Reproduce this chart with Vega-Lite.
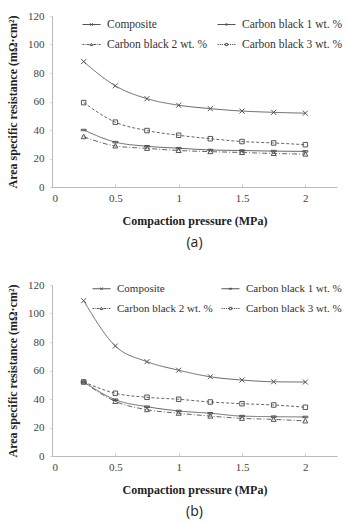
{
  "$schema": "https://vega.github.io/schema/vega-lite/v6.json",
  "padding": {"left": 6, "top": 10, "right": 4, "bottom": 4},
  "spacing": 29,
  "config": {
    "view": {"stroke": null},
    "font": "Liberation Serif",
    "axis": {
      "domainColor": "#bbbbbb",
      "tickColor": "#cccccc",
      "labelFont": "Liberation Serif",
      "labelFontSize": 11,
      "labelColor": "#444444",
      "titleFont": "Liberation Serif",
      "titleFontSize": 12,
      "titleFontWeight": "bold",
      "titleColor": "#222222",
      "grid": false
    },
    "legend": {
      "labelFont": "Liberation Serif",
      "labelColor": "#333333",
      "symbolStrokeWidth": 1,
      "symbolStrokeColor": "#555555"
    }
  },
  "datasets": {
    "a": [
      {"p": 0.25, "r": 88, "s": "Composite"},
      {"p": 0.5, "r": 71, "s": "Composite"},
      {"p": 0.75, "r": 62, "s": "Composite"},
      {"p": 1, "r": 57.4, "s": "Composite"},
      {"p": 1.25, "r": 55, "s": "Composite"},
      {"p": 1.5, "r": 53.3, "s": "Composite"},
      {"p": 1.75, "r": 52.4, "s": "Composite"},
      {"p": 2, "r": 51.8, "s": "Composite"},
      {"p": 0.25, "r": 40, "s": "Carbon black 1 wt. %"},
      {"p": 0.5, "r": 31.5, "s": "Carbon black 1 wt. %"},
      {"p": 0.75, "r": 28.6, "s": "Carbon black 1 wt. %"},
      {"p": 1, "r": 27.2, "s": "Carbon black 1 wt. %"},
      {"p": 1.25, "r": 26, "s": "Carbon black 1 wt. %"},
      {"p": 1.5, "r": 25.6, "s": "Carbon black 1 wt. %"},
      {"p": 1.75, "r": 25.2, "s": "Carbon black 1 wt. %"},
      {"p": 2, "r": 25, "s": "Carbon black 1 wt. %"},
      {"p": 0.25, "r": 35.3, "s": "Carbon black 2 wt. %"},
      {"p": 0.5, "r": 28.8, "s": "Carbon black 2 wt. %"},
      {"p": 0.75, "r": 27.1, "s": "Carbon black 2 wt. %"},
      {"p": 1, "r": 25.6, "s": "Carbon black 2 wt. %"},
      {"p": 1.25, "r": 24.8, "s": "Carbon black 2 wt. %"},
      {"p": 1.5, "r": 24.2, "s": "Carbon black 2 wt. %"},
      {"p": 1.75, "r": 23.5, "s": "Carbon black 2 wt. %"},
      {"p": 2, "r": 23.1, "s": "Carbon black 2 wt. %"},
      {"p": 0.25, "r": 59.2, "s": "Carbon black 3 wt. %"},
      {"p": 0.5, "r": 45.5, "s": "Carbon black 3 wt. %"},
      {"p": 0.75, "r": 39.6, "s": "Carbon black 3 wt. %"},
      {"p": 1, "r": 36.3, "s": "Carbon black 3 wt. %"},
      {"p": 1.25, "r": 33.9, "s": "Carbon black 3 wt. %"},
      {"p": 1.5, "r": 31.9, "s": "Carbon black 3 wt. %"},
      {"p": 1.75, "r": 30.9, "s": "Carbon black 3 wt. %"},
      {"p": 2, "r": 29.7, "s": "Carbon black 3 wt. %"}
    ],
    "b": [
      {"p": 0.25, "r": 109, "s": "Composite"},
      {"p": 0.5, "r": 77.2, "s": "Composite"},
      {"p": 0.75, "r": 66.2, "s": "Composite"},
      {"p": 1, "r": 60.2, "s": "Composite"},
      {"p": 1.25, "r": 55.6, "s": "Composite"},
      {"p": 1.5, "r": 53.3, "s": "Composite"},
      {"p": 1.75, "r": 52.1, "s": "Composite"},
      {"p": 2, "r": 51.9, "s": "Composite"},
      {"p": 0.25, "r": 52, "s": "Carbon black 1 wt. %"},
      {"p": 0.5, "r": 39.5, "s": "Carbon black 1 wt. %"},
      {"p": 0.75, "r": 34.6, "s": "Carbon black 1 wt. %"},
      {"p": 1, "r": 31.6, "s": "Carbon black 1 wt. %"},
      {"p": 1.25, "r": 30, "s": "Carbon black 1 wt. %"},
      {"p": 1.5, "r": 28, "s": "Carbon black 1 wt. %"},
      {"p": 1.75, "r": 27.6, "s": "Carbon black 1 wt. %"},
      {"p": 2, "r": 27.4, "s": "Carbon black 1 wt. %"},
      {"p": 0.25, "r": 52, "s": "Carbon black 2 wt. %"},
      {"p": 0.5, "r": 38.3, "s": "Carbon black 2 wt. %"},
      {"p": 0.75, "r": 32.5, "s": "Carbon black 2 wt. %"},
      {"p": 1, "r": 30, "s": "Carbon black 2 wt. %"},
      {"p": 1.25, "r": 28, "s": "Carbon black 2 wt. %"},
      {"p": 1.5, "r": 26.4, "s": "Carbon black 2 wt. %"},
      {"p": 1.75, "r": 25.7, "s": "Carbon black 2 wt. %"},
      {"p": 2, "r": 24.6, "s": "Carbon black 2 wt. %"},
      {"p": 0.25, "r": 52, "s": "Carbon black 3 wt. %"},
      {"p": 0.5, "r": 44, "s": "Carbon black 3 wt. %"},
      {"p": 0.75, "r": 41.2, "s": "Carbon black 3 wt. %"},
      {"p": 1, "r": 39.8, "s": "Carbon black 3 wt. %"},
      {"p": 1.25, "r": 37.9, "s": "Carbon black 3 wt. %"},
      {"p": 1.5, "r": 36.7, "s": "Carbon black 3 wt. %"},
      {"p": 1.75, "r": 35.8, "s": "Carbon black 3 wt. %"},
      {"p": 2, "r": 34.2, "s": "Carbon black 3 wt. %"}
    ]
  },
  "vconcat": [
    {
      "width": 285,
      "height": 171,
      "data": {"name": "a"},
      "title": {"text": "(a)", "orient": "bottom", "font": "Open Sans", "fontSize": 14, "fontWeight": "normal", "color": "#222222", "offset": 10},
      "encoding": {
        "x": {"field": "p", "type": "quantitative", "scale": {"domain": [0, 2.25], "nice": false}, "axis": {"values": [0, 0.5, 1, 1.5, 2], "format": "~g", "title": "Compaction pressure (MPa)", "tickSize": -3, "labelPadding": 8, "titlePadding": 12}},
        "y": {"field": "r", "type": "quantitative", "scale": {"domain": [0, 120], "nice": false}, "axis": {"values": [0, 20, 40, 60, 80, 100, 120], "title": "Area specific resistance (mΩ·cm²)", "tickSize": 2, "labelPadding": 6, "titlePadding": 8}}
      },
      "layer": [
        {
          "mark": {"type": "line", "interpolate": "monotone", "color": "#666666", "strokeWidth": 1},
          "encoding": {
            "detail": {"field": "s"},
            "strokeDash": {"field": "s", "type": "nominal", "scale": {"domain": ["Composite", "Carbon black 1 wt. %", "Carbon black 2 wt. %", "Carbon black 3 wt. %"], "range": [[1, 0], [1, 0], [5, 2, 1, 2], [3, 2]]}, "legend": null}
          }
        },
        {
          "mark": {"type": "point", "filled": false, "color": "#555555", "strokeWidth": 1, "size": 25, "opacity": 1},
          "encoding": {
            "shape": {"field": "s", "type": "nominal", "scale": {"domain": ["Composite", "Carbon black 1 wt. %", "Carbon black 2 wt. %", "Carbon black 3 wt. %"], "range": ["M-1,-1L1,1M-1,1L1,-1", "M-1,-0.3H1V0.3H-1Z", "M0,-1L1,0.8L-1,0.8Z", "M-0.9,-0.9H0.9V0.9H-0.9Z"]}, "legend": null}
          }
        },
        {
          "transform": [{"filter": "datum.p < 0"}],
          "mark": {"type": "point", "filled": false, "color": "#555555", "strokeWidth": 1, "size": 324, "opacity": 1},
          "encoding": {
            "shape": {
              "field": "s",
              "type": "nominal",
              "scale": {"domain": ["Composite", "Carbon black 1 wt. %", "Carbon black 2 wt. %", "Carbon black 3 wt. %"], "range": [
                "M-1,0H1M-0.14,-0.14L0.14,0.14M-0.14,0.14L0.14,-0.14",
                "M-1,0H1M-0.14,-0.05H0.14V0.05H-0.14Z",
                "M-1,0H-0.8M-0.7,0H-0.64M-0.54,0H-0.2M0.2,0H0.54M0.64,0H0.7M0.8,0H1M0,-0.14L0.15,0.12L-0.15,0.12Z",
                "M-1,0H-0.86M-0.76,0H-0.62M-0.52,0H-0.38M-0.28,0H-0.14M0.14,0H0.28M0.38,0H0.52M0.62,0H0.76M0.86,0H1M-0.13,-0.13H0.13V0.13H-0.13Z"
              ]},
              "legend": {"title": null, "orient": "none", "legendX": 30, "legendY": -1, "columns": 2, "direction": "horizontal", "symbolSize": 324, "columnPadding": 8, "rowPadding": 5, "labelOffset": 6, "labelFontSize": 11.5}
            }
          }
        }
      ],
      "resolve": {"scale": {"shape": "independent"}}
    },
    {
      "width": 285,
      "height": 171,
      "data": {"name": "b"},
      "title": {"text": "(b)", "orient": "bottom", "font": "Open Sans", "fontSize": 14, "fontWeight": "normal", "color": "#222222", "offset": 10},
      "encoding": {
        "x": {"field": "p", "type": "quantitative", "scale": {"domain": [0, 2.25], "nice": false}, "axis": {"values": [0, 0.5, 1, 1.5, 2], "format": "~g", "title": "Compaction pressure (MPa)", "tickSize": -3, "labelPadding": 8, "titlePadding": 12}},
        "y": {"field": "r", "type": "quantitative", "scale": {"domain": [0, 120], "nice": false}, "axis": {"values": [0, 20, 40, 60, 80, 100, 120], "title": "Area specific resistance (mΩ·cm²)", "tickSize": 2, "labelPadding": 6, "titlePadding": 8}}
      },
      "layer": [
        {
          "mark": {"type": "line", "interpolate": "monotone", "color": "#666666", "strokeWidth": 1},
          "encoding": {
            "detail": {"field": "s"},
            "strokeDash": {"field": "s", "type": "nominal", "scale": {"domain": ["Composite", "Carbon black 1 wt. %", "Carbon black 2 wt. %", "Carbon black 3 wt. %"], "range": [[1, 0], [1, 0], [5, 2, 1, 2], [3, 2]]}, "legend": null}
          }
        },
        {
          "mark": {"type": "point", "filled": false, "color": "#555555", "strokeWidth": 1, "size": 25, "opacity": 1},
          "encoding": {
            "shape": {"field": "s", "type": "nominal", "scale": {"domain": ["Composite", "Carbon black 1 wt. %", "Carbon black 2 wt. %", "Carbon black 3 wt. %"], "range": ["M-1,-1L1,1M-1,1L1,-1", "M-1,-0.3H1V0.3H-1Z", "M0,-1L1,0.8L-1,0.8Z", "M-0.9,-0.9H0.9V0.9H-0.9Z"]}, "legend": null}
          }
        },
        {
          "transform": [{"filter": "datum.p < 0"}],
          "mark": {"type": "point", "filled": false, "color": "#555555", "strokeWidth": 1, "size": 324, "opacity": 1},
          "encoding": {
            "shape": {
              "field": "s",
              "type": "nominal",
              "scale": {"domain": ["Composite", "Carbon black 1 wt. %", "Carbon black 2 wt. %", "Carbon black 3 wt. %"], "range": [
                "M-1,0H1M-0.14,-0.14L0.14,0.14M-0.14,0.14L0.14,-0.14",
                "M-1,0H1M-0.14,-0.05H0.14V0.05H-0.14Z",
                "M-1,0H-0.8M-0.7,0H-0.64M-0.54,0H-0.2M0.2,0H0.54M0.64,0H0.7M0.8,0H1M0,-0.14L0.15,0.12L-0.15,0.12Z",
                "M-1,0H-0.86M-0.76,0H-0.62M-0.52,0H-0.38M-0.28,0H-0.14M0.14,0H0.28M0.38,0H0.52M0.62,0H0.76M0.86,0H1M-0.13,-0.13H0.13V0.13H-0.13Z"
              ]},
              "legend": {"title": null, "orient": "none", "legendX": 40, "legendY": -6, "columns": 2, "direction": "horizontal", "symbolSize": 324, "columnPadding": 6, "rowPadding": 5, "labelOffset": 6, "labelFontSize": 11}
            }
          }
        }
      ],
      "resolve": {"scale": {"shape": "independent"}}
    }
  ]
}
